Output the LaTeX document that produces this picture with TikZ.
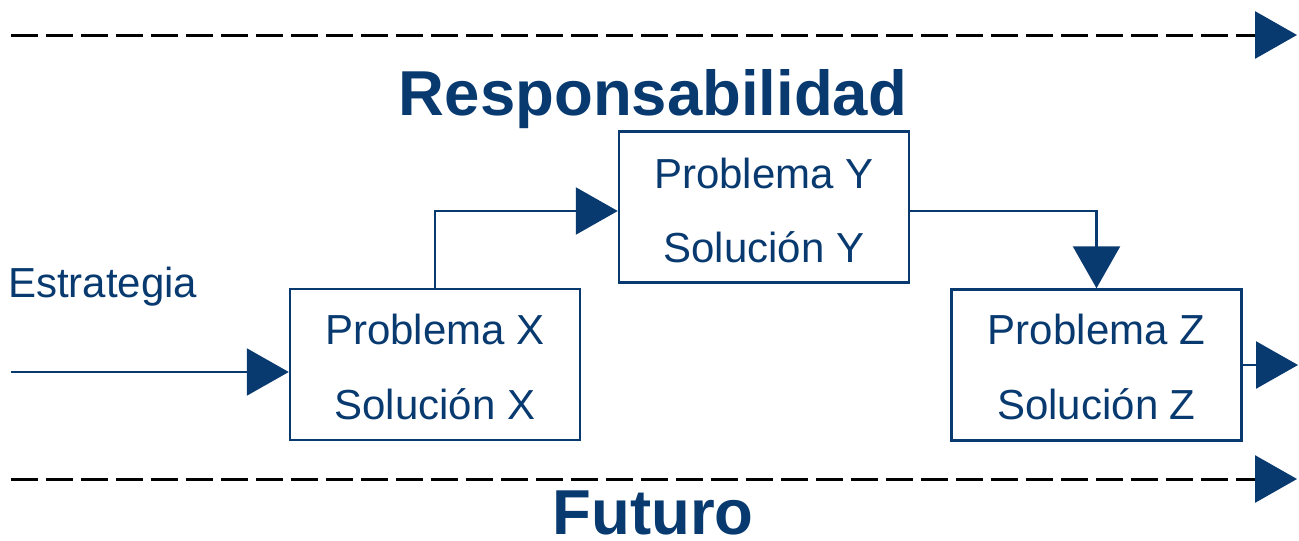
\documentclass[tikz,border=0pt]{standalone}
\usepackage{fontspec}
\setmainfont{Liberation Sans}
\usetikzlibrary{arrows.meta}
\definecolor{navy}{RGB}{8,58,112}
\tikzset{
  box/.style={draw=navy, line width=2.5pt, minimum width=290pt, minimum height=151pt, inner sep=0pt},
  btext/.style={text=navy, font=\fontsize{42}{50}\selectfont, anchor=base, inner sep=0pt},
  title/.style={text=navy, font=\bfseries\fontsize{63.5}{70}\selectfont, anchor=base, inner sep=0pt, text depth=0pt},
  conn/.style={draw=navy, line width=2.5pt, -{Triangle[length=42pt,width=47pt]}},
  dashline/.style={draw=black, line width=3pt, dash pattern=on 27pt off 8pt, -{Triangle[length=42pt,width=47pt,color=navy]}}
}
\begin{document}
\begin{tikzpicture}[x=1pt,y=-1pt]
\useasboundingbox (0,0) rectangle (1299,541);
% dashed lines
\coordinate (t1) at (11,35);
\coordinate (t2) at (1297,35);
\coordinate (b1) at (11,479);
\coordinate (b2) at (1297,479);
\draw[dashline] (t1) -- (t2);
\draw[dashline] (b1) -- (b2);
% titles
\node[title] (resp) at (653,115) {Responsabilidad};
\node[title] (fut) at (653,534) {Futuro};
% boxes
\node[box] (bx) at (435,364.5) {};
\node[box] (by) at (764,207) {};
\node[box] (bz) at (1096.5,365) {};
\node[btext] (xp) at (435,344) {Problema X};
\node[btext] (xs) at (435,419) {Solución X};
\node[btext] (yp) at (764,188) {Problema Y};
\node[btext] (ys) at (764,262) {Solución Y};
\node[btext] (zp) at (1096.5,344) {Problema Z};
\node[btext] (zs) at (1096.5,419) {Solución Z};
\node[btext, anchor=base west] (estr) at (8,297) {Estrategia};
% connectors
\coordinate (in) at (11,372);
\coordinate (out) at (1298,365);
\draw[conn] (in) -- (in -| bx.west);
\draw[conn] (bx.north) |- ([yshift=-4pt]by.west);
\draw[conn] ([yshift=-4pt]by.east) -| (bz.north);
\draw[conn] (bz.east) -- (out);
\end{tikzpicture}
\end{document}
